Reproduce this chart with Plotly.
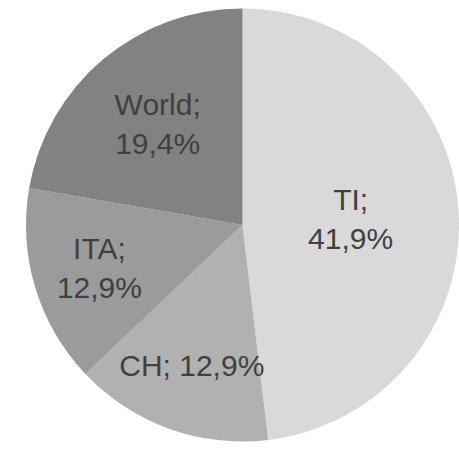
import plotly.graph_objects as go

labels = ["TI", "CH", "ITA", "World"]
values = [41.9, 12.9, 12.9, 19.4]
colors = ["#d9d9d9", "#b1b1b1", "#9b9b9b", "#828282"]
templates = ["%{label};<br>%{value:.1f}%", "%{label}; %{value:.1f}%",
             "%{label};<br>%{value:.1f}%", "%{label};<br>%{value:.1f}%"]

fig = go.Figure(go.Pie(
    labels=labels, values=values, sort=False, direction="clockwise", rotation=0,
    marker=dict(colors=colors, line=dict(width=0)),
    texttemplate=templates, textposition="inside", insidetextorientation="horizontal",
    textfont=dict(family="Liberation Sans, Arial", size=30, color="#404040"),
    domain=dict(x=[0.0566, 1.0], y=[0.0221, 0.9823]),
    hoverinfo="none", showlegend=False,
))
fig.update_layout(width=459, height=452, margin=dict(l=0, r=0, t=0, b=0),
                  paper_bgcolor="white", separators=",.", showlegend=False,
                  uniformtext=dict(minsize=30, mode="show"))
fig.write_html("out.html", config={"displayModeBar": False},
               post_script="document.body.style.margin='0';")
